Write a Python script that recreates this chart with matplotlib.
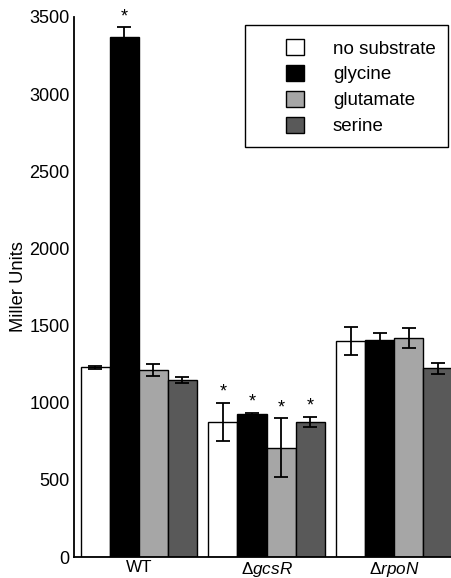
"""Miller units per strain and substrate, grouped bars with error bars."""

import matplotlib.pyplot as plt
import numpy as np
from matplotlib.patches import Patch, Rectangle

plt.rcParams['font.family'] = ['Liberation Sans', 'DejaVu Sans']
plt.rcParams['mathtext.fontset'] = 'custom'
plt.rcParams['mathtext.rm'] = 'Liberation Sans'
plt.rcParams['mathtext.it'] = 'Liberation Sans:italic'

strains = ['WT', r'$\Delta\mathit{gcsR}$', r'$\Delta\mathit{rpoN}$']
substrates = ['no substrate', 'glycine', 'glutamate', 'serine']
colors = ['#ffffff', '#000000', '#a6a6a6', '#595959']

values = {
    'no substrate': [1229, 875, 1402],
    'glycine': [3368, 929, 1406],
    'glutamate': [1212, 709, 1421],
    'serine': [1147, 875, 1223],
}
errors = {
    'no substrate': [10, 122, 90],
    'glycine': [65, 6, 45],
    'glutamate': [38, 190, 65],
    'serine': [21, 35, 34],
}
significant = {
    'no substrate': [False, True, False],
    'glycine': [True, True, False],
    'glutamate': [False, True, False],
    'serine': [False, True, False],
}

fig = plt.figure(figsize=(4.51, 5.78), dpi=100)
ax = fig.add_axes([0.164, 0.0363, 0.836, 0.9343])

x = np.arange(len(strains))
width = 0.228
for i, sub in enumerate(substrates):
    pos = x + (i - 1.5) * width
    ax.bar(pos, values[sub], width, color=colors[i], edgecolor='black',
           linewidth=1.0, zorder=2)
    ax.errorbar(pos, values[sub], yerr=errors[sub], fmt='none', ecolor='black',
                elinewidth=1.3, capsize=5, capthick=1.3, zorder=3)
    for p, v, e, s in zip(pos, values[sub], errors[sub], significant[sub]):
        if s:
            ax.text(p, v + e + 15, '*', ha='center', va='bottom', fontsize=13)

ax.set_xlim(-0.508, 2.445)
ax.set_ylim(0, 3500)
ax.set_yticks(range(0, 3501, 500))
ax.set_xticks(x)
ax.set_xticklabels(strains)
ax.tick_params(axis='both', length=0, labelsize=13, pad=3)
ax.tick_params(axis='x', pad=2, labelsize=12.3)
ax.spines['top'].set_visible(False)
ax.spines['right'].set_visible(False)
ax.spines['left'].set_linewidth(1.3)
ax.spines['bottom'].set_linewidth(1.3)
ax.set_ylabel('Miller Units', fontsize=13.2, labelpad=2)

# legend frame drawn separately so the left margin can be wider than the right
fig.add_artist(Rectangle((245 / 451, 1 - 147 / 578), 203 / 451, 122 / 578,
                         transform=fig.transFigure, facecolor='white',
                         edgecolor='black', linewidth=1.0, zorder=5))
handles = [Patch(facecolor=c, edgecolor='black', linewidth=1.0) for c in colors]
leg = fig.legend(handles, substrates, loc='upper left',
                 bbox_to_anchor=(286 / 451, 1 - 39 / 578),
                 fontsize=13.5, frameon=False,
                 handlelength=0.95, handleheight=0.95, handletextpad=1.55,
                 borderpad=0, borderaxespad=0, labelspacing=0.39)
leg.set_zorder(6)

fig.savefig('out.png', dpi=100)
